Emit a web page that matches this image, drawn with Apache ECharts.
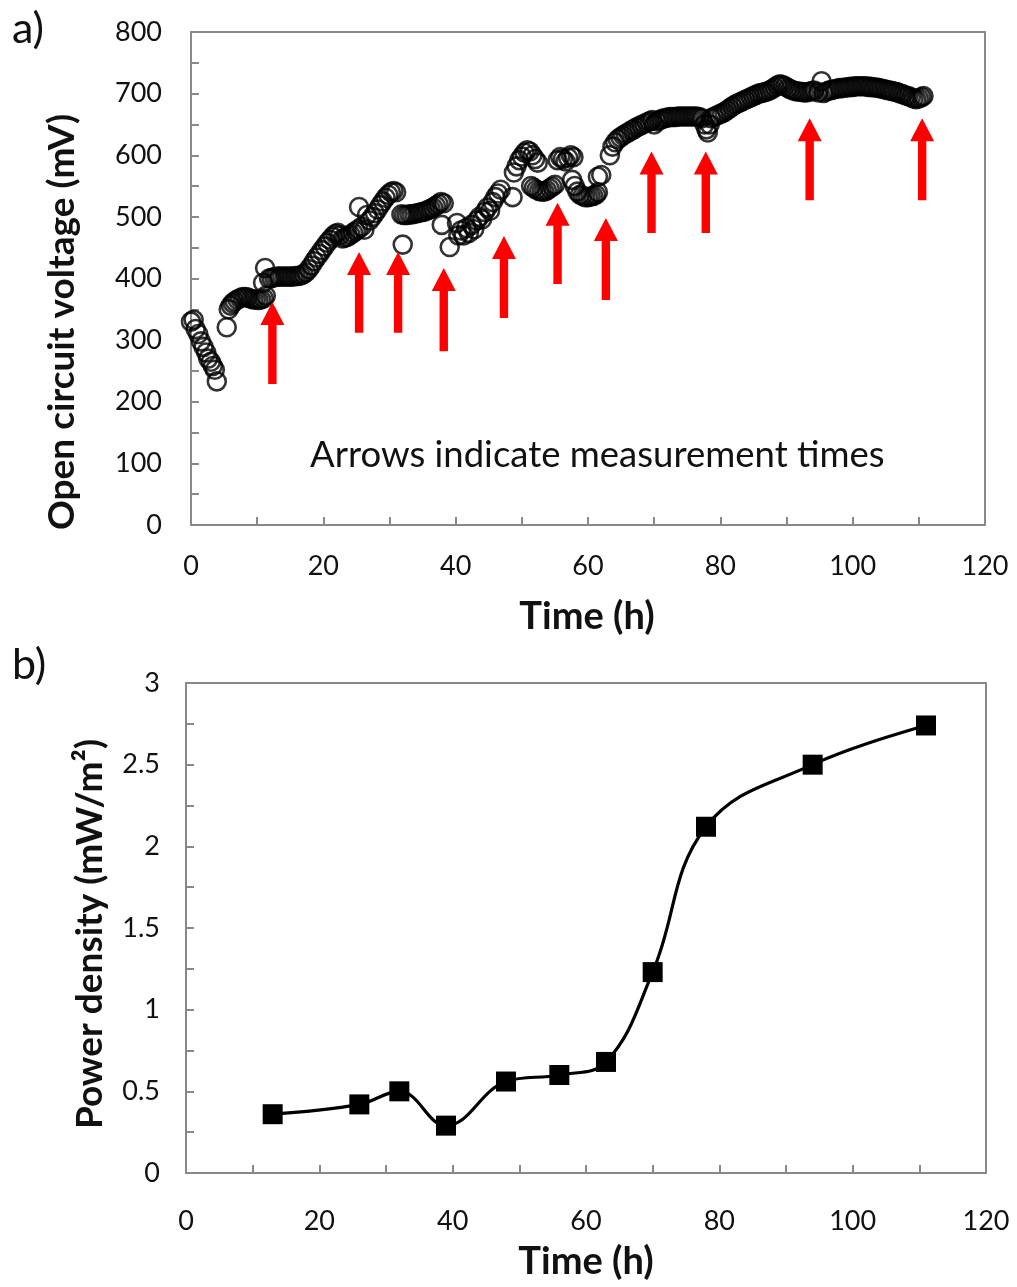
<!DOCTYPE html>
<html>
<head>
<meta charset="utf-8">
<script src="https://cdn.jsdelivr.net/npm/echarts@6/dist/echarts.min.js"></script>
<style>
html,body{margin:0;padding:0;background:#fff;}
#c{width:1017px;height:1287px;}
</style>
</head>
<body>
<div id="c"></div>
<script>
// ---- Panel a: open circuit voltage (time in h, voltage in mV) ----
const ocvTime = [
  0.0,0.4,0.7,1.1,1.5,1.9,2.3,2.6,3.0,3.3,3.6,3.9,
  5.4,5.7,6.0,6.3,6.6,7.0,7.4,7.8,8.2,8.6,9.0,9.4,9.8,10.2,10.6,11.0,11.3,10.9,11.2,
  11.8,12.2,12.6,13.0,13.4,13.8,14.2,14.6,15.0,15.4,15.8,16.2,16.6,17.0,17.4,
  17.8,18.2,18.6,19.0,19.4,19.8,20.2,20.6,21.0,21.4,21.8,22.2,22.5,22.9,23.3,23.7,24.1,24.5,24.9,25.3,25.4,25.8,26.2,26.6,27.0,27.4,27.8,28.2,28.6,29.0,29.4,29.8,30.2,30.6,31.0,
  32.0,31.8,32.2,32.6,33.0,33.4,33.8,34.2,34.6,35.0,35.4,35.8,36.2,36.6,37.0,37.4,37.8,38.2,37.9,39.1,40.2,40.4,40.8,41.2,41.6,42.0,42.4,42.8,43.2,43.6,44.0,44.4,44.8,45.2,45.6,46.0,46.4,46.8,48.6,
  48.8,49.2,49.6,50.0,50.4,50.8,51.2,51.6,52.0,52.4,51.4,51.8,52.2,52.6,53.0,53.4,53.8,54.2,54.6,55.0,55.4,55.8,56.2,56.6,57.0,57.4,57.8,57.6,58.0,58.4,58.8,59.2,59.6,60.0,60.4,60.8,61.2,61.5,61.5,62.0,
  63.3,63.7,64.1,64.5,64.9,65.3,65.7,66.1,66.5,66.9,67.3,67.7,68.1,68.5,68.9,69.3,69.7,70.0,70.4,70.8,71.2,71.6,72.0,72.4,72.8,73.2,73.6,74.0,74.4,74.8,75.2,75.6,76.0,76.4,76.8,77.2,77.6,77.9,78.1,78.4,
  78.6,79.0,79.4,79.8,80.2,80.6,81.0,81.4,81.8,82.2,82.6,83.0,83.4,83.8,84.2,84.6,85.0,85.4,85.8,86.2,86.6,87.0,87.4,87.8,88.2,88.6,89.0,89.4,89.8,90.2,90.6,91.0,91.4,91.8,92.2,92.6,93.0,93.4,93.8,94.2,95.3,
  94.8,95.6,96.0,96.4,96.8,97.2,97.6,98.0,98.4,98.8,99.2,99.6,100.0,100.4,100.8,101.2,101.6,102.0,102.4,102.8,103.2,103.6,104.0,104.4,104.8,105.2,105.6,106.0,106.4,106.8,107.2,107.6,108.0,108.4,108.8,109.2,109.6,110.0,110.4,110.7
];
const ocvMv = [
  330,333,318,310,298,289,280,270,265,258,252,233,
  321,350,356,360,363,366,368,370,370,369,367,366,366,365,366,368,372,393,417,
  400,401,402,403,403,403,403,403,403,403,404,404,405,407,410,
  415,421,428,434,440,446,452,458,463,468,472,474,470,465,466,468,471,474,477,480,516,484,479,503,494,500,506,512,519,525,531,536,540,542,540,
  455,504,503,503,504,504,505,506,507,508,509,511,513,515,518,521,524,522,487,451,490,470,478,470,482,474,487,480,494,500,496,508,515,510,524,532,538,544,532,
  572,582,592,598,604,608,606,600,594,588,550,547,544,542,541,541,543,546,549,552,592,597,594,590,596,600,597,560,550,541,536,534,532,532,533,534,536,540,565,568,
  600,614,621,626,629,632,635,637,640,642,645,647,649,651,653,655,657,650,655,657,659,660,661,662,662,662,663,663,663,663,663,663,663,663,662,660,650,642,637,650,
  660,662,664,666,668,670,673,676,679,682,684,686,688,690,692,694,696,698,700,701,702,703,705,707,710,713,715,714,712,709,707,705,704,703,703,702,702,703,704,705,720,
  702,701,703,705,706,707,708,709,709,710,710,711,711,712,712,712,712,712,711,711,710,710,709,708,707,706,705,704,703,702,700,699,697,696,694,692,691,692,694,696
];
// Red arrows marking measurement times: time, tip voltage, tail voltage
const arrowTime = [12.3, 25.4, 31.3, 38.2, 47.3, 55.4, 62.7, 69.6, 77.8, 93.5, 110.5];
const arrowTip  = [362, 443, 443, 417, 469, 523, 498, 606, 606, 660, 660];
const arrowTail = [229, 312, 312, 282, 336, 391, 365, 474, 474, 527, 527];

// ---- Panel b: power density ----
const pdTime  = [13, 26, 32, 39, 48, 56, 63, 70, 78, 94, 111];
const pdValue = [0.36, 0.42, 0.50, 0.29, 0.56, 0.60, 0.68, 1.23, 2.12, 2.50, 2.74];

const FONT = 'Lato, "Open Sans", sans-serif';
const AX = '#898989';
const TXT = '#111111';

function valueAxis(opt) {
  return Object.assign({
    type: 'value',
    axisLine: { show: true, onZero: false, lineStyle: { color: AX, width: 2 } },
    axisTick: { show: true, inside: true, length: 8, lineStyle: { color: AX, width: 2 } },
    minorTick: { show: true, splitNumber: 2, length: 8, lineStyle: { color: AX, width: 2 } },
    splitLine: { show: false },
    minorSplitLine: { show: false }
  }, opt);
}
const lbl = (m) => ({ color: TXT, fontFamily: FONT, fontSize: 27, margin: m });

const chart = echarts.init(document.getElementById('c'), null, { renderer: 'canvas' });

const option = {
  backgroundColor: '#ffffff',
  animation: false,
  grid: [
    { left: 191, top: 32, width: 794, height: 493, show: true, borderColor: AX, borderWidth: 2, backgroundColor: 'transparent' },
    { left: 186, top: 683, width: 800, height: 490, show: true, borderColor: AX, borderWidth: 2, backgroundColor: 'transparent' }
  ],
  xAxis: [
    valueAxis({ gridIndex: 0, min: 0, max: 120, interval: 20, axisLabel: lbl(28) }),
    valueAxis({ gridIndex: 1, min: 0, max: 120, interval: 20, axisLabel: lbl(35) })
  ],
  yAxis: [
    valueAxis({ gridIndex: 0, min: 0, max: 800, interval: 100, axisLabel: lbl(29) }),
    valueAxis({ gridIndex: 1, min: 0, max: 3, interval: 0.5, axisLabel: lbl(26) })
  ],
  series: [
    {
      type: 'scatter',
      xAxisIndex: 0, yAxisIndex: 0,
      data: ocvTime.map((t, i) => [t, ocvMv[i]]),
      symbol: 'circle',
      symbolSize: 18,
      itemStyle: { color: 'rgba(0,0,0,0)', borderColor: '#000', borderWidth: 2.6 },
      z: 2
    },
    {
      type: 'custom',
      xAxisIndex: 0, yAxisIndex: 0,
      coordinateSystem: 'cartesian2d',
      data: arrowTime.map((t, i) => [t, arrowTip[i], arrowTail[i]]),
      encode: { x: 0, y: [1, 2] },
      renderItem: function (params, api) {
        const tip = api.coord([api.value(0), api.value(1)]);
        const tail = api.coord([api.value(0), api.value(2)]);
        const hw = 12, hl = 23, sw = 4.2;
        const x = tip[0];
        return {
          type: 'polygon',
          shape: { points: [
            [x, tip[1]], [x + hw, tip[1] + hl], [x + sw, tip[1] + hl],
            [x + sw, tail[1]], [x - sw, tail[1]], [x - sw, tip[1] + hl], [x - hw, tip[1] + hl]
          ] },
          style: { fill: '#ff0000' }
        };
      },
      z: 3
    },
    {
      type: 'line',
      xAxisIndex: 1, yAxisIndex: 1,
      data: pdTime.map((t, i) => [t, pdValue[i]]),
      smooth: 0.4,
      symbol: 'rect',
      symbolSize: 20,
      itemStyle: { color: '#000' },
      lineStyle: { color: '#000', width: 3.2 },
      z: 3
    }
  ],
  graphic: [
    { type: 'text', x: 12, y: 8, style: { text: 'a)', font: '43px ' + FONT, fill: TXT } },
    { type: 'text', x: 12, y: 644, style: { text: 'b)', font: '43px ' + FONT, fill: TXT } },
    { type: 'text', x: 62, y: 322, rotation: Math.PI / 2,
      style: { text: 'Open circuit voltage (mV)', font: 'bold 37px ' + FONT, fill: TXT, align: 'center', verticalAlign: 'middle' } },
    { type: 'text', x: 587, y: 617,
      style: { text: 'Time (h)', font: 'bold 38px ' + FONT, fill: TXT, align: 'center', verticalAlign: 'middle' } },
    { type: 'text', x: 310, y: 455,
      style: { text: 'Arrows indicate measurement times', font: '36.5px ' + FONT, fill: TXT, align: 'left', verticalAlign: 'middle' } },
    { type: 'text', x: 90, y: 934, rotation: Math.PI / 2,
      style: { text: 'Power density (mW/m²)', font: 'bold 37px ' + FONT, fill: TXT, align: 'center', verticalAlign: 'middle' } },
    { type: 'text', x: 586, y: 1262,
      style: { text: 'Time (h)', font: 'bold 38px ' + FONT, fill: TXT, align: 'center', verticalAlign: 'middle' } }
  ]
};
chart.setOption(option);
</script>
</body>
</html>
